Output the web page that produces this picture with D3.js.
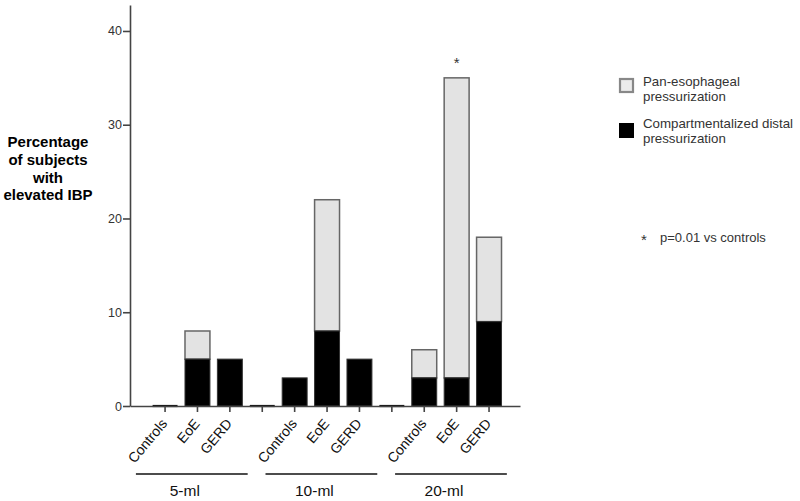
<!DOCTYPE html>
<html>
<head>
<meta charset="utf-8">
<script src="https://cdn.jsdelivr.net/npm/d3@7"></script>
<style>
  body { margin: 0; background: #fff; }
  svg { font-family: "Liberation Sans", Arial, sans-serif; }
</style>
</head>
<body>
<div id="chart"></div>
<script>
// categories per slot ("" = empty spacer slot between groups)
var categories = ["Controls", "EoE", "GERD", "", "Controls", "EoE", "GERD", "", "Controls", "EoE", "GERD"];
// compartmentalized distal pressurization (black, bottom)
var compartmentalized = [0, 5, 5, 0, 3, 8, 5, 0, 3, 3, 9];
// pan-esophageal pressurization (light grey, on top)
var panEsophageal = [0, 3, 0, 0, 0, 14, 0, 0, 3, 32, 9];
var groups = ["5-ml", "10-ml", "20-ml"];
var groupFirst = [0, 4, 8];
var groupLast = [2, 6, 10];
var yTicks = [0, 10, 20, 30, 40];
var significant = [9];
var legendLabels = [["Pan-esophageal", "pressurization"], ["Compartmentalized distal", "pressurization"]];

var width = 800, height = 501;

var svg = d3.select("#chart")
    .append("svg")
    .attr("width", width)
    .attr("height", height);

var x = d3.scaleBand()
    .domain(d3.range(categories.length))
    .range([130, 520])
    .paddingInner(0.23)
    .paddingOuter(0.634)
    .align(0.55);

var y = d3.scaleLinear()
    .domain([0, 42.77])
    .range([406, 5]);

// bars
var data = categories.map(function (c, i) {
    return {i: i, low: compartmentalized[i], high: panEsophageal[i]};
});

svg.selectAll(".pan")
    .data(data.filter(function (d) { return d.high > 0; }))
    .enter().append("rect")
    .attr("class", "pan")
    .attr("x", function (d) { return x(d.i); })
    .attr("y", function (d) { return y(d.low + d.high); })
    .attr("width", x.bandwidth())
    .attr("height", function (d) { return y(d.low) - y(d.low + d.high); })
    .attr("fill", "#e3e3e3")
    .attr("stroke", "#666")
    .attr("stroke-width", 1.5);

svg.selectAll(".comp")
    .data(data.filter(function (d) { return d.low > 0; }))
    .enter().append("rect")
    .attr("class", "comp")
    .attr("x", function (d) { return x(d.i); })
    .attr("y", function (d) { return y(d.low); })
    .attr("width", x.bandwidth())
    .attr("height", function (d) { return y(0) - y(d.low); })
    .attr("fill", "#000")
    .attr("stroke", "#333")
    .attr("stroke-width", 1);

// zero-height bars show as a flat line on the baseline
svg.selectAll(".zero")
    .data(data.filter(function (d) { return d.low + d.high === 0; }))
    .enter().append("line")
    .attr("class", "zero")
    .attr("x1", function (d) { return x(d.i); })
    .attr("x2", function (d) { return x(d.i) + x.bandwidth(); })
    .attr("y1", y(0))
    .attr("y2", y(0))
    .attr("stroke", "#111")
    .attr("stroke-width", 2.2);

// y axis
var gy = svg.append("g")
    .attr("transform", "translate(130,0)")
    .call(d3.axisLeft(y).tickValues(yTicks).tickSize(7).tickSizeOuter(0).tickPadding(1));
gy.select(".domain").attr("stroke", "#444").attr("stroke-width", 1.6);
gy.selectAll(".tick line").attr("stroke", "#444").attr("stroke-width", 1.6);
gy.selectAll(".tick text")
    .attr("fill", "#333")
    .style("font-size", "12.5px");

// x axis
var gx = svg.append("g")
    .attr("transform", "translate(0," + y(0) + ")")
    .call(d3.axisBottom(x).tickSize(6).tickSizeOuter(0).tickFormat(""));
gx.select(".domain").attr("stroke", "#444").attr("stroke-width", 1.6);
gx.selectAll(".tick line").attr("stroke", "#444").attr("stroke-width", 1.6);

svg.selectAll(".xlab")
    .data(data.filter(function (d) { return categories[d.i] !== ""; }))
    .enter().append("text")
    .attr("class", "xlab")
    .attr("transform", function (d) {
        return "translate(" + (x(d.i) + x.bandwidth() / 2 + 3) + ",424) rotate(-50)";
    })
    .attr("text-anchor", "end")
    .attr("fill", "#111")
    .style("font-size", "14px")
    .text(function (d) { return categories[d.i]; });

// group brackets
var step = x.step();
groups.forEach(function (g, k) {
    var x0 = x(groupFirst[k]) + x.bandwidth() / 2 - step * 0.9;
    var x1 = x(groupLast[k]) + x.bandwidth() / 2 + step * 0.55;
    svg.append("line")
        .attr("x1", x0).attr("x2", x1)
        .attr("y1", 474).attr("y2", 474)
        .attr("stroke", "#111")
        .attr("stroke-width", 1.3);
    svg.append("text")
        .attr("x", (x0 + x1) / 2 - 7)
        .attr("y", 496)
        .attr("text-anchor", "middle")
        .attr("fill", "#111")
        .style("font-size", "15.5px")
        .text(g);
});

// significance star
svg.selectAll(".star")
    .data(significant)
    .enter().append("text")
    .attr("class", "star")
    .attr("x", function (i) { return x(i) + x.bandwidth() / 2; })
    .attr("y", function (i) { return y(compartmentalized[i] + panEsophageal[i]) - 10; })
    .attr("text-anchor", "middle")
    .attr("fill", "#333")
    .style("font-size", "15px")
    .text("*");

// y title
var title = ["Percentage", "of subjects", "with", "elevated IBP"];
svg.append("text")
    .attr("text-anchor", "middle")
    .style("font-size", "15px")
    .style("font-weight", "bold")
    .attr("fill", "#000")
    .selectAll("tspan")
    .data(title)
    .enter().append("tspan")
    .attr("x", 48)
    .attr("y", function (d, i) { return 147 + i * 17.8; })
    .text(function (d) { return d; });

// legend
var leg = svg.append("g");
leg.append("rect")
    .attr("x", 620).attr("y", 79).attr("width", 13).attr("height", 13)
    .attr("fill", "#ececec").attr("stroke", "#888").attr("stroke-width", 2.2);
leg.append("rect")
    .attr("x", 619).attr("y", 123).attr("width", 15).attr("height", 15)
    .attr("fill", "#000");
legendLabels.forEach(function (lines, k) {
    var t = leg.append("text")
        .attr("fill", "#333")
        .style("font-size", "13.3px");
    lines.forEach(function (l, j) {
        t.append("tspan")
            .attr("x", 643)
            .attr("y", 86 + k * 42 + j * 15)
            .text(l);
    });
});

leg.append("text")
    .attr("x", 641).attr("y", 245)
    .attr("fill", "#333")
    .style("font-size", "15px")
    .text("*");
leg.append("text")
    .attr("x", 660).attr("y", 242)
    .attr("fill", "#333")
    .style("font-size", "13px")
    .text("p=0.01 vs controls");
</script>
</body>
</html>
